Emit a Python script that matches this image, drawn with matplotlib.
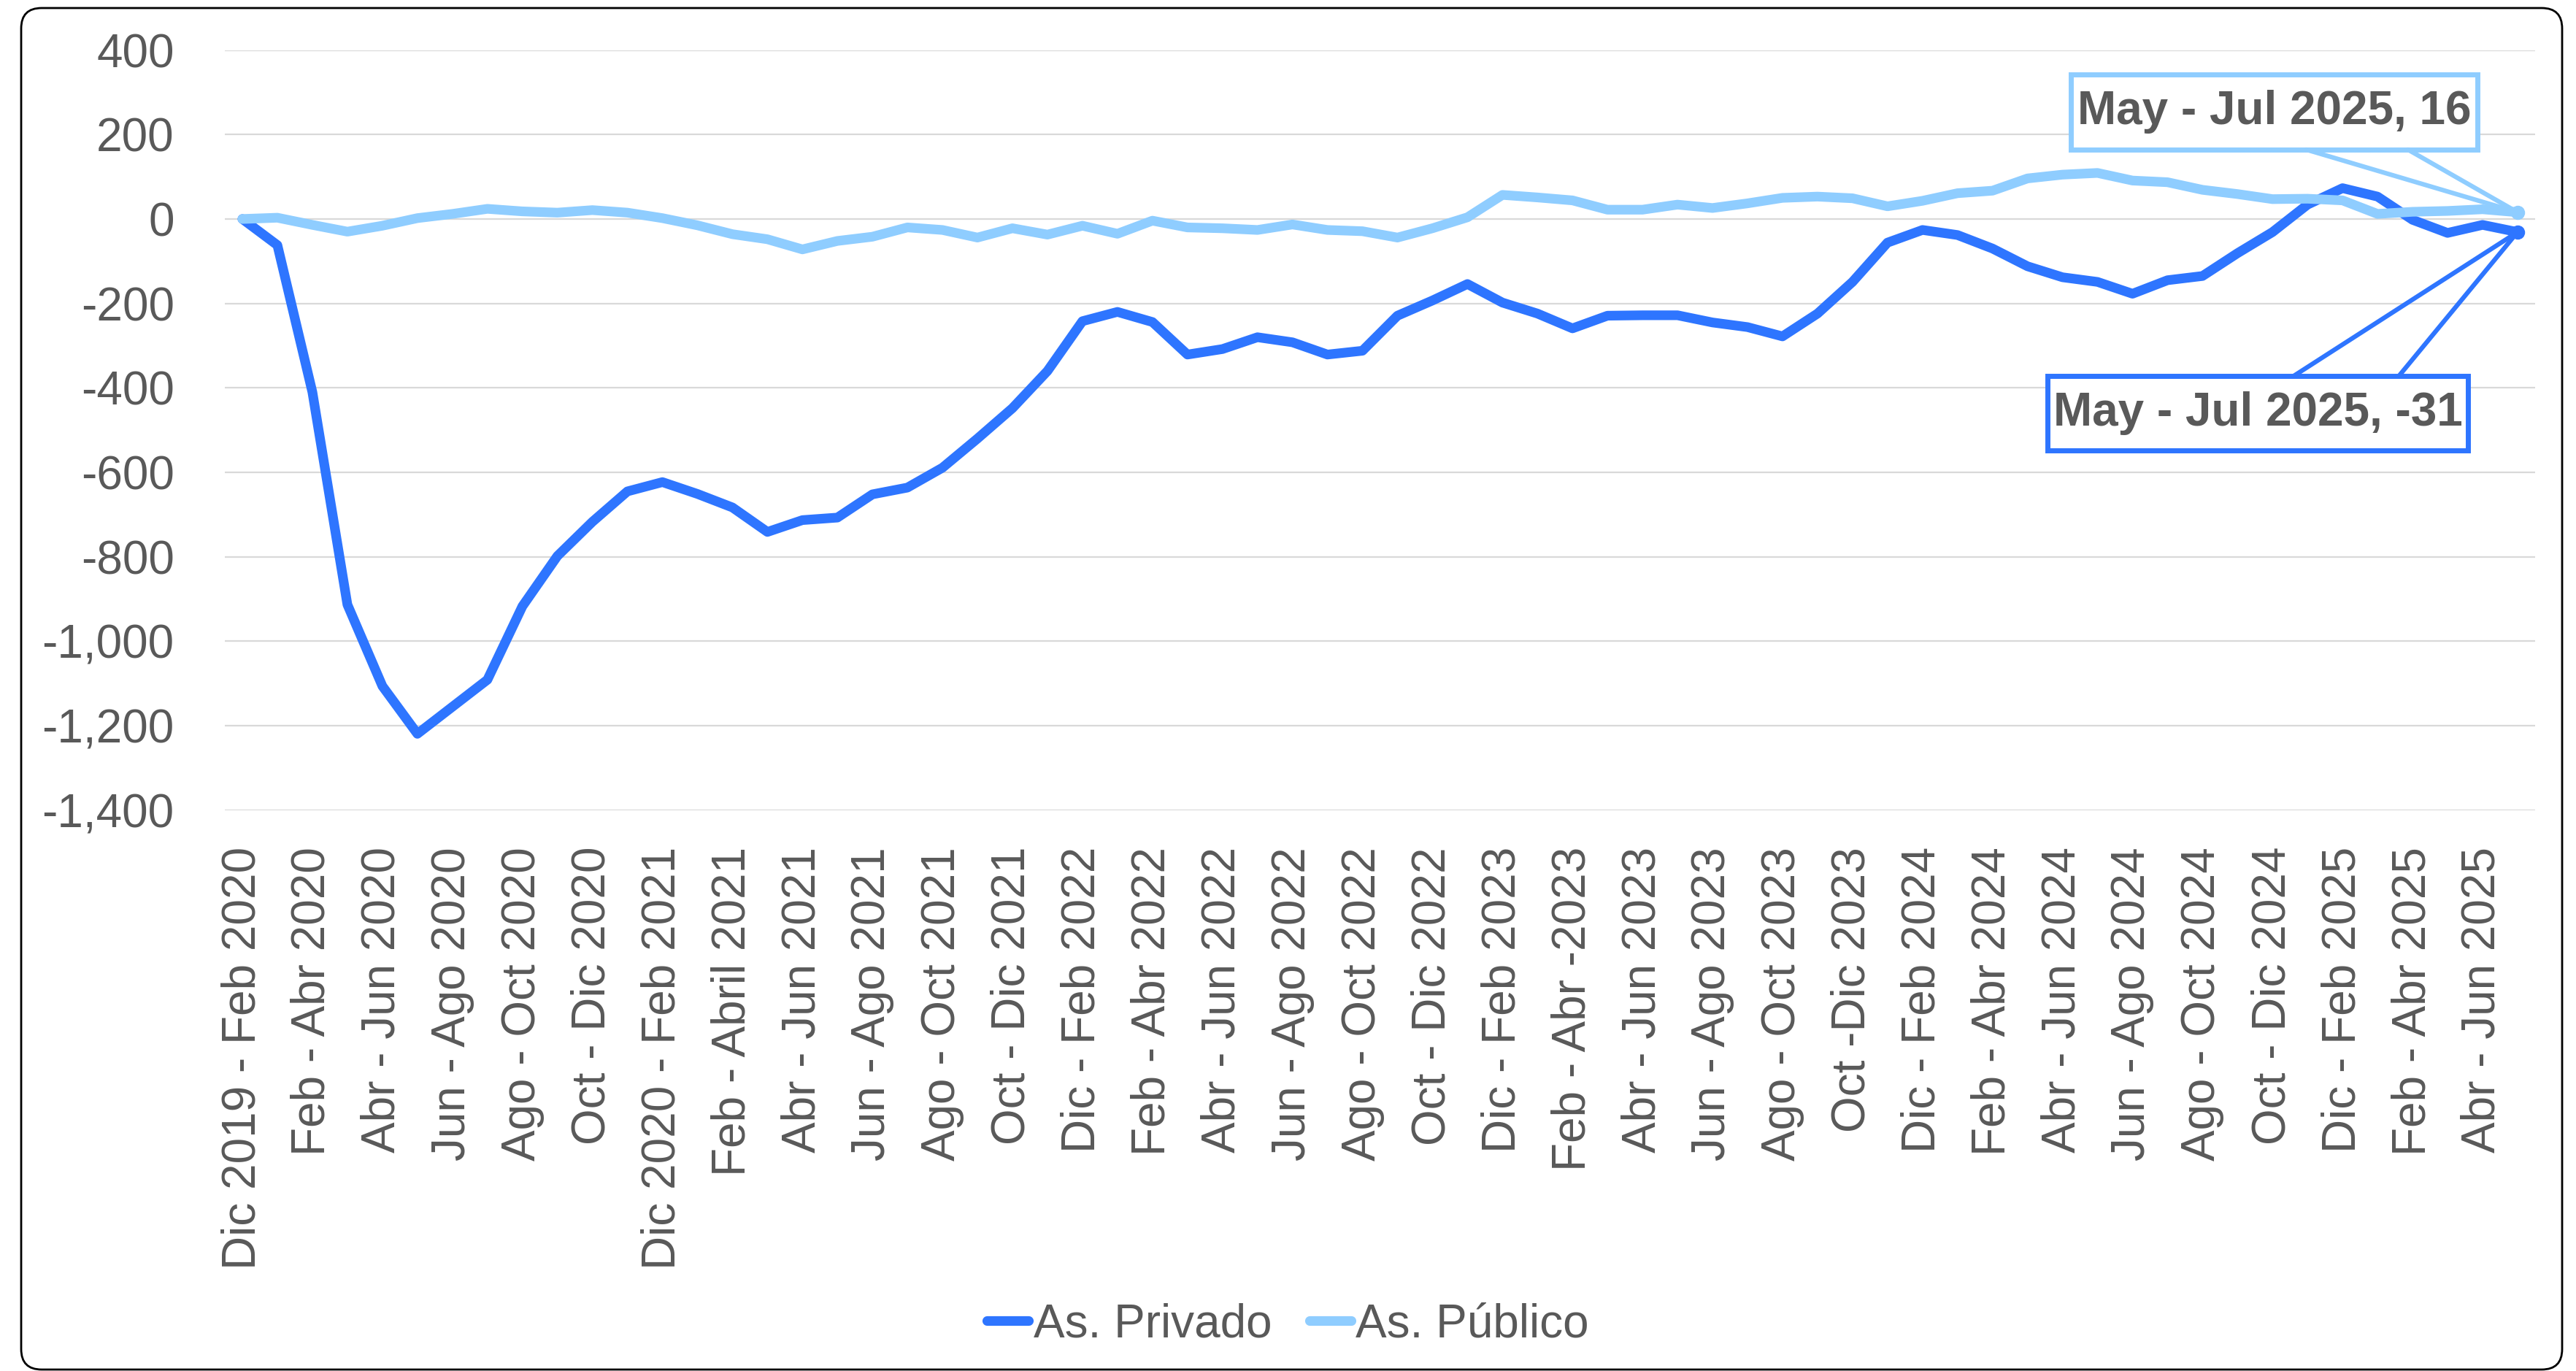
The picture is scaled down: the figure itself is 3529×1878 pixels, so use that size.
import matplotlib
matplotlib.use("Agg")
import matplotlib.pyplot as plt
from matplotlib.patches import FancyBboxPatch, Rectangle
from matplotlib.ticker import FuncFormatter

#-----------------------------
periodos = [
    'Dic 2019 - Feb 2020', 'Ene - Mar 2020', 'Feb - Abr 2020', 'Mar - May 2020',
    'Abr - Jun 2020', 'May - Jul 2020', 'Jun - Ago 2020', 'Jul - Sep 2020',
    'Ago - Oct 2020', 'Sep - Nov 2020', 'Oct - Dic 2020', 'Nov 2020 - Ene 2021',
    'Dic 2020 - Feb 2021', 'Ene - Mar 2021', 'Feb - Abril 2021', 'Mar - May 2021',
    'Abr - Jun 2021', 'May - Jul 2021', 'Jun - Ago 2021', 'Jul - Sep 2021',
    'Ago - Oct 2021', 'Sep - Nov 2021', 'Oct - Dic 2021', 'Nov - Ene 2022',
    'Dic - Feb 2022', 'Ene - Mar 2022', 'Feb - Abr 2022', 'Mar - May 2022',
    'Abr - Jun 2022', 'May - Jul 2022', 'Jun - Ago 2022', 'Jul - Sep 2022',
    'Ago - Oct 2022', 'Sep - Nov 2022', 'Oct - Dic 2022', 'Nov - Ene 2023',
    'Dic - Feb 2023', 'Ene - Mar 2023', 'Feb - Abr -2023', 'Mar - May 2023',
    'Abr - Jun 2023', 'May - Jul 2023', 'Jun - Ago 2023', 'Jul - Sep 2023',
    'Ago - Oct 2023', 'Sep - Nov 2023', 'Oct -Dic 2023', 'Nov - Ene 2024',
    'Dic - Feb 2024', 'Ene - Mar 2024', 'Feb - Abr 2024', 'Mar - May 2024',
    'Abr - Jun 2024', 'May - Jul 2024', 'Jun - Ago 2024', 'Jul - Sep 2024',
    'Ago - Oct 2024', 'Sep - Nov 2024', 'Oct - Dic 2024', 'Nov - Ene 2025',
    'Dic - Feb 2025', 'Ene - Mar 2025', 'Feb - Abr 2025', 'Mar - May 2025',
    'Abr - Jun 2025', 'May - Jul 2025',
]

privado = [0, -62, -410, -913, -1106, -1219, -1155, -1091, -917, -798,
           -717, -645, -623, -651, -683, -741, -713, -707, -652, -636,
           -589, -520, -448, -360, -242, -220, -244, -321, -308, -280,
           -292, -321, -312, -229, -193, -154, -198, -224, -259, -229,
           -228, -228, -245, -256, -278, -224, -149, -56, -26, -38,
           -70, -112, -138, -149, -177, -145, -135, -81, -31, 34,
           73, 53, -2, -33, -14, -31]

publico = [0, 3, -14, -30, -16, 2, 12, 24, 18, 15,
           21, 15, 2, -15, -36, -48, -72, -52, -42, -20,
           -26, -44, -22, -37, -16, -35, -4, -20, -22, -26,
           -13, -26, -29, -44, -22, 4, 57, 51, 44, 22,
           22, 34, 26, 37, 50, 53, 49, 30, 43, 61,
           67, 96, 105, 109, 91, 87, 69, 59, 47, 48,
           44, 12, 17, 19, 23, 16]

privado_label = 'As. Privado'
publico_label = 'As. Público'

color_privado = '#2E75FF'
color_publico = '#8FCDFF'
text_gray = '#595959'
grid_gray = '#D9D9D9'
myfontsize = 46
my_linewidth = 9.5
#-----------------------------

plt.rcParams['font.family'] = ['Liberation Sans', 'DejaVu Sans']


def draw_chart():
    fig = plt.figure(figsize=(35.29, 18.78), dpi=100)
    ax = fig.add_axes([0.0873, 0.409, 0.8968, 0.5545])

    x = list(range(len(periodos)))

    ax.plot(x, privado, color=color_privado, linewidth=my_linewidth, label=privado_label,
            solid_capstyle='round', solid_joinstyle='round', zorder=3)
    ax.plot(x, publico, color=color_publico, linewidth=my_linewidth, label=publico_label,
            solid_capstyle='round', solid_joinstyle='round', zorder=4)
    ax.plot(x[-1], privado[-1], 'o', color=color_privado, markersize=13, zorder=5)
    ax.plot(x[-1], publico[-1], 'o', color=color_publico, markersize=13, zorder=5)

    ax.set_xlim(-0.5, len(periodos) - 0.5)
    ax.set_ylim(-1400, 400)
    ax.set_yticks(range(-1400, 401, 200))
    ax.yaxis.set_major_formatter(FuncFormatter(lambda v, p: '{:,.0f}'.format(v)))
    ax.set_xticks(x[::2])
    ax.set_xticklabels(periodos[::2], rotation=90)

    ax.grid(True, axis='y', color=grid_gray, linewidth=1.6, zorder=0)
    ax.set_axisbelow(True)
    for s in ax.spines.values():
        s.set_visible(False)
    ax.tick_params(axis='both', length=0, labelsize=myfontsize, labelcolor=text_gray)
    ax.tick_params(axis='y', pad=50)
    ax.tick_params(axis='x', pad=36)

    # callouts for the last value of each series
    label_font = dict(family=['Liberation Sans Narrow', 'Liberation Sans', 'DejaVu Sans'],
                      fontsize=46, fontweight='bold', color=text_gray)
    callouts = [
        (publico, color_publico, (0.799, 0.869, 0.176, 0.099), (0.901, 0.945), 0.869),
        (privado, color_privado, (0.789, 0.473, 0.182, 0.098), (0.8954, 0.941), 0.571),
    ]
    for serie, col, (bx, by, bw, bh), bases, base_y in callouts:
        ax.add_patch(Rectangle((bx, by), bw, bh, transform=ax.transAxes, facecolor='white',
                               edgecolor=col, linewidth=5, clip_on=False, zorder=6))
        ax.text(bx + bw / 2, by + bh / 2, '{}, {}'.format(periodos[-1], serie[-1]),
                transform=ax.transAxes, ha='center', va='center', zorder=7, **label_font)
        for bxx in bases:
            ax.annotate('', xy=(x[-1], serie[-1]), xycoords='data',
                        xytext=(bxx, base_y), textcoords='axes fraction',
                        arrowprops=dict(arrowstyle='-', color=col, lw=4.5,
                                        shrinkA=0, shrinkB=0), zorder=6)

    fig.legend(loc='center', bbox_to_anchor=(0.5, 1 - 1814 / 1878), ncol=2, frameon=False,
               fontsize=myfontsize, labelcolor=text_gray, handlelength=0.9,
               handletextpad=0.1, columnspacing=0.8)

    # chart area border
    fig.patches.append(FancyBboxPatch((29, 2), 3481, 1865, transform=None,
                                      boxstyle='round,pad=0,rounding_size=28',
                                      facecolor='none', edgecolor='black', linewidth=2))

    fig.savefig('out.png', dpi=100)


def main():
    draw_chart()


if __name__ == "__main__":
    main()
